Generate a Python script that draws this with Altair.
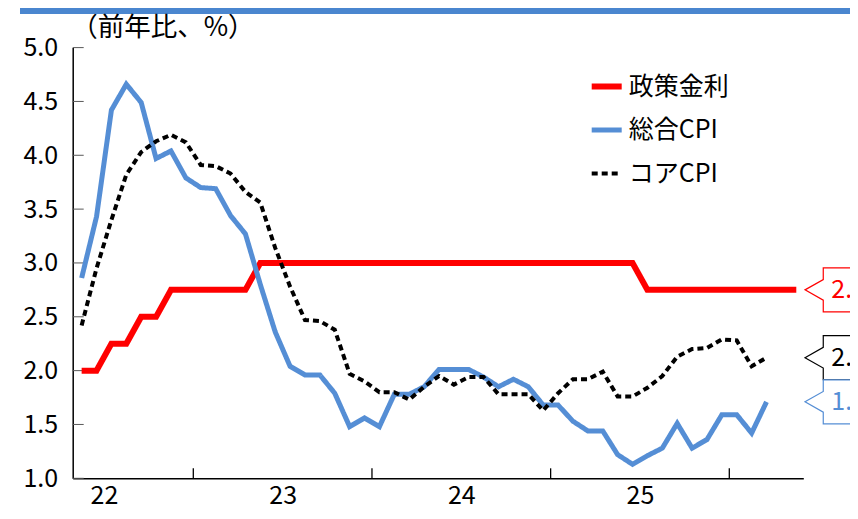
import altair as alt
import pandas as pd

FONT = "Noto Sans CJK JP"

SERIES = ["政策金利", "総合CPI", "コアCPI"]
COLORS = ["#FF0000", "#558ED5", "#000000"]
WIDTHS = [6, 4, 2]
DASHES = [[1, 0], [1, 0], [6, 4]]

# month index 0 = May 2022
POLICY = [2.0, 2.0, 2.25, 2.25, 2.5, 2.5, 2.75, 2.75, 2.75, 2.75,
          2.75, 2.75, 3.0, 3.0, 3.0, 3.0, 3.0, 3.0, 3.0, 3.0,
          3.0, 3.0, 3.0, 3.0, 3.0, 3.0, 3.0, 3.0, 3.0, 3.0,
          3.0, 3.0, 3.0, 3.0, 3.0, 3.0, 3.0, 3.0, 2.75, 2.75,
          2.75, 2.75, 2.75, 2.75, 2.75, 2.75, 2.75, 2.75, 2.75]
CPI = [2.86, 3.43, 4.42, 4.66, 4.49, 3.97, 4.04, 3.79, 3.70, 3.69,
       3.44, 3.27, 2.80, 2.36, 2.04, 1.96, 1.96, 1.79, 1.48, 1.56,
       1.48, 1.78, 1.78, 1.85, 2.01, 2.01, 2.01, 1.94, 1.85, 1.92,
       1.85, 1.68, 1.68, 1.53, 1.44, 1.44, 1.22, 1.13, 1.21, 1.28,
       1.51, 1.28, 1.36, 1.59, 1.59, 1.42, 1.71]
CORE = [2.42, 2.95, 3.40, 3.82, 4.03, 4.13, 4.19, 4.12, 3.91, 3.90,
        3.83, 3.66, 3.56, 3.14, 2.78, 2.47, 2.46, 2.38, 1.97, 1.90,
        1.80, 1.80, 1.73, 1.85, 1.95, 1.87, 1.94, 1.94, 1.78, 1.78,
        1.78, 1.63, 1.79, 1.92, 1.92, 1.99, 1.76, 1.76, 1.84, 1.95,
        2.13, 2.20, 2.21, 2.29, 2.28, 2.04, 2.12]

YEAR_LABELS = ["22", "23", "24", "25"]
YEAR_LABEL_POS = [1.5, 13.5, 25.5, 37.5]
YEAR_TICKS = [7.5, 19.5, 31.5, 43.5]
Y_TICKS = [1.0, 1.5, 2.0, 2.5, 3.0, 3.5, 4.0, 4.5, 5.0]
CALLOUT_TEXT = ["2.75", "2.1", "1.7"]
TITLE = "（前年比、%）"

W, H = 730.6, 430.7
SVG_W, SVG_H = 842, 503
PAD = {"left": 64.7, "top": 39.6, "right": SVG_W - 64.7 - W, "bottom": SVG_H - 39.6 - H}

rows = []
for name, vals in zip(SERIES, [POLICY, CPI, CORE]):
    for i, v in enumerate(vals):
        rows.append({"idx": i, "value": v, "series": name})
df = pd.DataFrame(rows)

label_expr = " : ".join(
    [f"datum.value < {p + 1} ? '{l}'" for p, l in zip(YEAR_LABEL_POS[:-1], YEAR_LABELS[:-1])]
) + f" : '{YEAR_LABELS[-1]}'"

x_enc = alt.X("idx:Q",
              scale=alt.Scale(domain=[-0.6, 48.47], nice=False, zero=False),
              axis=alt.Axis(values=YEAR_LABEL_POS, labelExpr=label_expr, ticks=False,
                            grid=False, title=None, domainColor="black", domainWidth=1.5,
                            labelFontSize=25, labelFont=FONT, labelColor="black",
                            labelPadding=5, labelFlush=False))
y_enc = alt.Y("value:Q",
              scale=alt.Scale(domain=[1, 5], nice=False, zero=False),
              axis=alt.Axis(values=Y_TICKS, format=".1f", ticks=False, grid=False,
                            title=None, domainColor="black", domainWidth=1.5,
                            labelFontSize=25, labelFont=FONT, labelColor="black",
                            labelPadding=15, labelFlush=False))
color_enc = alt.Color("series:N", scale=alt.Scale(domain=SERIES, range=COLORS), title=None)
dash_enc = alt.StrokeDash("series:N", scale=alt.Scale(domain=SERIES, range=DASHES), title=None)
width_enc = alt.StrokeWidth("series:N", scale=alt.Scale(domain=SERIES, range=WIDTHS), title=None)

layers = []
for name in SERIES:
    layers.append(
        alt.Chart(df).transform_filter(alt.datum.series == name).mark_line().encode(
            x=x_enc, y=y_enc, color=color_enc, strokeDash=dash_enc, strokeWidth=width_enc
        )
    )

yt = alt.Chart(pd.DataFrame({"value": Y_TICKS})).mark_rule(color="#595959", strokeWidth=1).encode(
    y="value:Q", x=alt.value(0), x2=alt.value(11))
xt = alt.Chart(pd.DataFrame({"idx": YEAR_TICKS})).mark_rule(color="black", strokeWidth=1.3).encode(
    x="idx:Q", y=alt.value(H), y2=alt.value(H - 10))

CALLOUT_PATH = "M0,0 L0.83,-0.47 L0.83,-1 L8,-1 L8,1 L0.83,1 L0.83,0.47 Z"
callouts = []
last_vals = [POLICY[-1], CORE[-1], CPI[-1]]
call_colors = ["#FF0000", "#000000", "#558ED5"]
for val, col, txt in zip(last_vals, call_colors, CALLOUT_TEXT):
    cdf = pd.DataFrame({"value": [val], "label": [txt]})
    callouts.append(alt.Chart(cdf).mark_point(shape=CALLOUT_PATH, size=1936, filled=True,
                                             fill="white", stroke=col, strokeWidth=1.2,
                                             opacity=1).encode(
        x=alt.value(W + 1.7), y="value:Q"))
    callouts.append(alt.Chart(cdf).mark_text(align="left", baseline="middle", fontSize=25,
                                            font=FONT, color=col).encode(
        x=alt.value(W + 28), y="value:Q", text="label:N"))

one = pd.DataFrame({"a": [0]})
bar = alt.Chart(one).mark_rect(color="#4A86CF").encode(
    x=alt.value(12 - PAD["left"]), x2=alt.value(SVG_W - PAD["left"]),
    y=alt.value(-PAD["top"]), y2=alt.value(-PAD["top"] + 6))
title = alt.Chart(one).mark_text(align="left", baseline="middle", fontSize=26.5, font=FONT,
                                 color="black").encode(
    x=alt.value(-1.5), y=alt.value(-19.8), text=alt.value(TITLE))

chart = alt.layer(bar, title, yt, xt, *layers, *callouts).properties(
    width=W, height=H,
    padding=PAD,
    autosize=alt.AutoSizeParams(type="none"),
).configure_view(stroke=None).configure_legend(
    orient="none", legendX=516, legendY=21, symbolType="stroke", symbolSize=900,
    labelFontSize=25, labelFont=FONT, labelColor="black", labelOffset=4,
    rowPadding=13, padding=0
)

chart.save("out.html", embed_options={"renderer": "svg", "actions": False})
